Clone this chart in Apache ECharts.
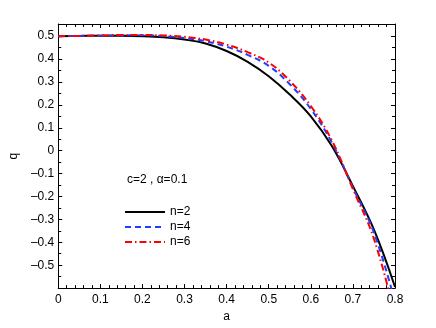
<!DOCTYPE html>
<html>
<head>
    <meta charset="UTF-8">
    <title>q vs a</title>
    <script src="https://cdn.jsdelivr.net/npm/echarts@6/dist/echarts.min.js"></script>
    <style>
        body { margin: 0; background: #fff; }
    </style>
</head>
<body>
    <div id="chart" style="width:436px; height:328px;"></div>

    <script>
        // values
        var aValues = [0, 0.05, 0.1, 0.15, 0.2, 0.25, 0.3, 0.35, 0.4, 0.45, 0.5, 0.55, 0.6, 0.65, 0.7, 0.75, 0.8];
        var qN2 = [0.500, 0.501, 0.502, 0.502, 0.500, 0.495, 0.485, 0.468, 0.435, 0.388, 0.325, 0.245, 0.150, 0.020, -0.155, -0.345, -0.595];
        var qN4 = [0.500, 0.501, 0.502, 0.504, 0.504, 0.500, 0.492, 0.478, 0.454, 0.418, 0.370, 0.290, 0.182, 0.035, -0.162, -0.358, -0.66];
        var qN6 = [0.500, 0.501, 0.503, 0.505, 0.505, 0.503, 0.497, 0.485, 0.463, 0.430, 0.385, 0.305, 0.195, 0.045, -0.168, -0.385, -0.72];
        var seriesNames = ['n=2', 'n=4', 'n=6'];
        var xTicks = [0, 0.1, 0.2, 0.3, 0.4, 0.5, 0.6, 0.7, 0.8];

        function pairs(ys) {
            var out = [];
            for (var i = 0; i < aValues.length; i++) out.push([aValues[i], ys[i]]);
            return out;
        }

        var font = 'Liberation Sans, Arial, sans-serif';

        function yLabel(v) {
            var r = Math.round(v * 10) / 10;
            if (Math.abs(v - r) > 1e-6 || r < -0.55 || r > 0.55) return '';
            if (r === 0) return '0';
            return r < 0 ? '\u2013' + Math.abs(r) : String(r);
        }

        var boxX = {
            type: 'value', min: 0, max: 0.8, interval: 0.1,
            axisLine: { show: true, onZero: false, lineStyle: { color: '#000', width: 1 } },
            axisTick: { show: true, inside: true, length: 4, lineStyle: { color: '#000' } },
            minorTick: { show: true, splitNumber: 5, length: 3, lineStyle: { color: '#000' } },
            splitLine: { show: false }
        };
        var boxY = {
            type: 'value', min: -0.6, max: 0.553, interval: 0.1,
            axisLine: { show: true, onZero: false, lineStyle: { color: '#000', width: 1 } },
            axisTick: { show: true, inside: true, length: 4, lineStyle: { color: '#000' } },
            minorTick: { show: true, splitNumber: 2, length: 3, lineStyle: { color: '#000' } },
            splitLine: { show: false }
        };

        var chart = echarts.init(document.getElementById('chart'), null, {renderer: 'canvas'});

        chart.setOption({
            animation: false,
            backgroundColor: '#fff',
            textStyle: { fontFamily: font },
            grid: { left: 57, right: 41, top: 24, bottom: 37 },
            xAxis: [
                Object.assign({}, boxX, {
                    position: 'bottom',
                    name: 'a', nameLocation: 'middle', nameGap: 20,
                    nameTextStyle: { color: '#000', fontSize: 12, fontFamily: font },
                    axisLabel: {
                        color: '#000', fontSize: 12, margin: 6, fontFamily: font,
                        formatter: function (v) {
                            var r = Math.round(v * 10) / 10;
                            return xTicks.indexOf(r) >= 0 ? String(r) : '';
                        }
                    }
                }),
                Object.assign({}, boxX, { position: 'top', axisLabel: { show: false } })
            ],
            yAxis: [
                Object.assign({}, boxY, {
                    position: 'left',
                    name: 'q', nameLocation: 'middle', nameGap: 28,
                    nameTextStyle: { color: '#000', fontSize: 12, fontFamily: font },
                    axisLabel: { color: '#000', fontSize: 12, margin: 4, fontFamily: font, formatter: yLabel }
                }),
                Object.assign({}, boxY, { position: 'right', axisLabel: { show: false } })
            ],
            legend: {
                orient: 'vertical',
                left: 119, top: 201,
                itemWidth: 40, itemHeight: 14, itemGap: 3,
                itemStyle: { opacity: 0 },
                textStyle: { color: '#000', fontSize: 12, fontFamily: font },
                data: seriesNames
            },
            graphic: [{
                type: 'text', left: 127, top: 174,
                style: { text: 'c=2 , \u03b1=0.1', fill: '#000', font: '12px ' + font }
            }],
            series: [
                {
                    name: seriesNames[0], type: 'line', data: pairs(qN2),
                    showSymbol: false, symbol: 'none', smooth: 0.4, clip: true,
                    lineStyle: { color: '#000', width: 2, type: 'solid' },
                    itemStyle: { color: '#000' }, z: 3
                },
                {
                    name: seriesNames[1], type: 'line', data: pairs(qN4),
                    showSymbol: false, symbol: 'none', smooth: 0.4, clip: true,
                    lineStyle: { color: '#1f3dff', width: 2, type: [6, 4] },
                    itemStyle: { color: '#1f3dff' }, z: 4
                },
                {
                    name: seriesNames[2], type: 'line', data: pairs(qN6),
                    showSymbol: false, symbol: 'none', smooth: 0.4, clip: true,
                    lineStyle: { color: '#ff0000', width: 2, type: [7, 3, 1.5, 3] },
                    itemStyle: { color: '#ff0000' }, z: 5
                }
            ]
        });
    </script>
</body>
</html>
